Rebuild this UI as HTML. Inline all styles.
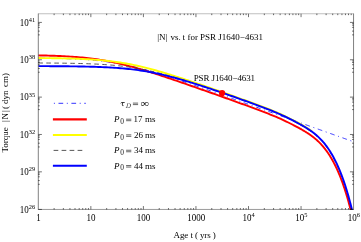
<!DOCTYPE html>
<html><head><meta charset="utf-8"><title>|N| vs. t for PSR J1640-4631</title>
<style>
html,body{margin:0;padding:0;background:#fff;}
svg{display:block;font-family:"Liberation Serif",serif;}
</style></head>
<body>
<svg width="361" height="242" viewBox="0 0 361 242">
<rect width="361" height="242" fill="#fff"/>
<defs><clipPath id="c"><rect x="38.3" y="13.75" width="315.25" height="196.0"/></clipPath></defs>
<g fill="none" stroke-linejoin="round" clip-path="url(#c)">
<path d="M38.30,58.14 L40.30,58.16 L42.30,58.19 L44.30,58.21 L46.30,58.24 L48.30,58.27 L50.30,58.30 L52.30,58.34 L54.30,58.38 L56.30,58.42 L58.30,58.47 L60.30,58.52 L62.30,58.57 L64.30,58.63 L66.30,58.69 L68.30,58.76 L70.30,58.84 L72.30,58.92 L74.30,59.01 L76.30,59.10 L78.30,59.20 L80.30,59.31 L82.30,59.43 L84.30,59.56 L86.30,59.69 L88.30,59.84 L90.30,59.99 L92.30,60.16 L94.30,60.34 L96.30,60.53 L98.30,60.73 L100.30,60.95 L102.30,61.18 L104.30,61.42 L106.30,61.68 L108.30,61.95 L110.30,62.24 L112.30,62.54 L114.30,62.86 L116.30,63.19 L118.30,63.54 L120.30,63.91 L122.30,64.29 L124.30,64.68 L126.30,65.09 L128.30,65.52 L130.30,65.96 L132.30,66.42 L134.30,66.89 L136.30,67.37 L138.30,67.87 L140.30,68.38 L142.30,68.90 L144.30,69.43 L146.30,69.98 L148.30,70.54 L150.30,71.10 L152.30,71.68 L154.30,72.27 L156.30,72.86 L158.30,73.47 L160.30,74.08 L162.30,74.70 L164.30,75.32 L166.30,75.95 L168.30,76.59 L170.30,77.24 L172.30,77.89 L174.30,78.54 L176.30,79.20 L178.30,79.86 L180.30,80.53 L182.30,81.20 L184.30,81.87 L186.30,82.55 L188.30,83.23 L190.30,83.91 L192.30,84.60 L194.30,85.28 L196.30,85.97 L198.30,86.66 L200.30,87.36 L202.30,88.05 L204.30,88.75 L206.30,89.45 L208.30,90.14 L210.30,90.84 L212.30,91.55 L214.30,92.25 L216.30,92.95 L218.30,93.65 L220.30,94.36 L222.30,95.06 L224.30,95.77 L226.30,96.48 L228.30,97.18 L230.30,97.89 L232.30,98.60 L234.30,99.31 L236.30,100.01 L238.30,100.72 L240.30,101.43 L242.30,102.14 L244.30,102.85 L246.30,103.56 L248.30,104.27 L250.30,104.98 L252.30,105.69 L254.30,106.41 L256.30,107.12 L258.30,107.83 L260.30,108.54 L262.30,109.25 L264.30,109.96 L266.30,110.67 L268.30,111.39 L270.30,112.10 L272.30,112.81 L274.30,113.52 L276.30,114.23 L278.30,114.95 L280.30,115.66 L282.30,116.37 L284.30,117.08 L286.30,117.79 L288.30,118.51 L290.30,119.22 L292.30,119.93 L294.30,120.64 L296.30,121.36 L298.30,122.07 L300.00,122.68 L300.50,122.85 L301.00,123.03 L301.50,123.21 L302.00,123.39 L302.50,123.57 L303.00,123.74 L303.50,123.92 L304.00,124.10 L304.50,124.28 L305.00,124.46 L305.50,124.64 L306.00,124.81 L306.50,124.99 L307.00,125.17 L307.50,125.35 L308.00,125.53 L308.50,125.70 L309.00,125.88 L309.50,126.06 L310.00,126.24 L310.50,126.42 L311.00,126.60 L311.50,126.77 L312.00,126.95 L312.50,127.13 L313.00,127.31 L313.50,127.49 L314.00,127.66 L314.50,127.84 L315.00,128.02 L315.50,128.20 L316.00,128.38 L316.50,128.55 L317.00,128.73 L317.50,128.91 L318.00,129.09 L318.50,129.27 L319.00,129.45 L319.50,129.62 L320.00,129.80 L320.50,129.98 L321.00,130.16 L321.50,130.34 L322.00,130.52 L322.50,130.69 L323.00,130.87 L323.50,131.05 L324.00,131.23 L324.50,131.41 L325.00,131.58 L325.50,131.76 L326.00,131.94 L326.50,132.12 L327.00,132.30 L327.50,132.48 L328.00,132.65 L328.50,132.83 L329.00,133.01 L329.50,133.19 L330.00,133.37 L330.50,133.54 L331.00,133.72 L331.50,133.90 L332.00,134.08 L332.50,134.26 L333.00,134.44 L333.50,134.61 L334.00,134.79 L334.50,134.97 L335.00,135.15 L335.50,135.33 L336.00,135.50 L336.50,135.68 L337.00,135.86 L337.50,136.04 L338.00,136.22 L338.50,136.40 L339.00,136.57 L339.50,136.75 L340.00,136.93 L340.50,137.11 L341.00,137.29 L341.50,137.46 L342.00,137.64 L342.50,137.82 L343.00,138.00 L343.50,138.18 L344.00,138.36 L344.50,138.53 L345.00,138.71 L345.50,138.89 L346.00,139.07 L346.50,139.25 L347.00,139.42 L347.50,139.60 L348.00,139.78 L348.50,139.96 L349.00,140.14 L349.50,140.32 L350.00,140.49 L350.50,140.67 L351.00,140.85 L351.50,141.03 L352.00,141.21 L352.50,141.39 L353.00,141.56 L353.50,141.74" stroke="#1c1cff" stroke-width="0.9" stroke-dasharray="1,3.7,4.7,3.7" stroke-dashoffset="2.5"/>
<path d="M38.30,55.40 L40.30,55.44 L42.30,55.48 L44.30,55.52 L46.30,55.57 L48.30,55.63 L50.30,55.68 L52.30,55.75 L54.30,55.81 L56.30,55.89 L58.30,55.97 L60.30,56.05 L62.30,56.14 L64.30,56.24 L66.30,56.35 L68.30,56.46 L70.30,56.59 L72.30,56.72 L74.30,56.87 L76.30,57.02 L78.30,57.18 L80.30,57.36 L82.30,57.55 L84.30,57.74 L86.30,57.96 L88.30,58.18 L90.30,58.42 L92.30,58.68 L94.30,58.94 L96.30,59.23 L98.30,59.52 L100.30,59.84 L102.30,60.16 L104.30,60.51 L106.30,60.87 L108.30,61.24 L110.30,61.63 L112.30,62.04 L114.30,62.46 L116.30,62.89 L118.30,63.34 L120.30,63.81 L122.30,64.29 L124.30,64.78 L126.30,65.28 L128.30,65.80 L130.30,66.33 L132.30,66.87 L134.30,67.42 L136.30,67.99 L138.30,68.56 L140.30,69.14 L142.30,69.73 L144.30,70.33 L146.30,70.94 L148.30,71.55 L150.30,72.17 L152.30,72.80 L154.30,73.44 L156.30,74.08 L158.30,74.72 L160.30,75.37 L162.30,76.03 L164.30,76.69 L166.30,77.35 L168.30,78.02 L170.30,78.69 L172.30,79.36 L174.30,80.04 L176.30,80.72 L178.30,81.40 L180.30,82.08 L182.30,82.77 L184.30,83.46 L186.30,84.15 L188.30,84.84 L190.30,85.54 L192.30,86.23 L194.30,86.93 L196.30,87.63 L198.30,88.33 L200.30,89.03 L202.30,89.73 L204.30,90.43 L206.30,91.14 L208.30,91.84 L210.30,92.55 L212.30,93.26 L214.30,93.97 L216.30,94.67 L218.30,95.38 L220.30,96.10 L222.30,96.81 L224.30,97.52 L226.30,98.24 L228.30,98.95 L230.30,99.67 L232.30,100.39 L234.30,101.11 L236.30,101.83 L238.30,102.55 L240.30,103.27 L242.30,104.00 L244.30,104.72 L246.30,105.45 L248.30,106.18 L250.30,106.92 L252.30,107.66 L254.30,108.40 L256.30,109.14 L258.30,109.89 L260.30,110.64 L262.30,111.40 L264.30,112.17 L266.30,112.94 L268.30,113.72 L270.30,114.52 L272.30,115.33 L274.30,116.15 L276.30,116.99 L278.30,117.86 L280.30,118.74 L282.30,119.64 L284.30,120.57 L286.30,121.52 L288.30,122.50 L290.30,123.49 L292.30,124.50 L294.30,125.54 L296.30,126.59 L298.30,127.67 L300.00,128.61 L300.50,128.88 L301.00,129.17 L301.50,129.45 L302.00,129.73 L302.50,130.02 L303.00,130.31 L303.50,130.60 L304.00,130.90 L304.50,131.20 L305.00,131.50 L305.50,131.81 L306.00,132.11 L306.50,132.43 L307.00,132.74 L307.50,133.06 L308.00,133.39 L308.50,133.72 L309.00,134.05 L309.50,134.39 L310.00,134.74 L310.50,135.09 L311.00,135.45 L311.50,135.81 L312.00,136.18 L312.50,136.55 L313.00,136.93 L313.50,137.32 L314.00,137.72 L314.50,138.13 L315.00,138.54 L315.50,138.96 L316.00,139.39 L316.50,139.83 L317.00,140.27 L317.50,140.73 L318.00,141.20 L318.50,141.67 L319.00,142.16 L319.50,142.66 L320.00,143.17 L320.50,143.69 L321.00,144.22 L321.50,144.76 L322.00,145.31 L322.50,145.88 L323.00,146.46 L323.50,147.05 L324.00,147.66 L324.50,148.28 L325.00,148.91 L325.50,149.56 L326.00,150.22 L326.50,150.89 L327.00,151.59 L327.50,152.29 L328.00,153.02 L328.50,153.76 L329.00,154.51 L329.50,155.29 L330.00,156.08 L330.50,156.89 L331.00,157.71 L331.50,158.56 L332.00,159.42 L332.50,160.31 L333.00,161.21 L333.50,162.13 L334.00,163.08 L334.50,164.04 L335.00,165.03 L335.50,166.04 L336.00,167.07 L336.50,168.12 L337.00,169.20 L337.50,170.30 L338.00,171.43 L338.50,172.58 L339.00,173.76 L339.50,174.96 L340.00,176.19 L340.50,177.45 L341.00,178.73 L341.50,180.05 L342.00,181.39 L342.50,182.76 L343.00,184.17 L343.50,185.60 L344.00,187.07 L344.50,188.57 L345.00,190.10 L345.50,191.66 L346.00,193.26 L346.50,194.90 L347.00,196.57 L347.50,198.28 L348.00,200.03 L348.50,201.82 L349.00,203.64 L349.50,205.51 L350.00,207.41 L350.50,209.36 L351.00,211.36" stroke="#f00" stroke-width="1.9"/>
<path d="M38.30,58.04 L40.30,58.06 L42.30,58.08 L44.30,58.09 L46.30,58.11 L48.30,58.14 L50.30,58.16 L52.30,58.19 L54.30,58.21 L56.30,58.25 L58.30,58.28 L60.30,58.32 L62.30,58.35 L64.30,58.40 L66.30,58.44 L68.30,58.49 L70.30,58.55 L72.30,58.61 L74.30,58.67 L76.30,58.74 L78.30,58.82 L80.30,58.90 L82.30,58.99 L84.30,59.08 L86.30,59.19 L88.30,59.30 L90.30,59.42 L92.30,59.54 L94.30,59.68 L96.30,59.83 L98.30,59.99 L100.30,60.15 L102.30,60.33 L104.30,60.53 L106.30,60.73 L108.30,60.95 L110.30,61.18 L112.30,61.42 L114.30,61.68 L116.30,61.96 L118.30,62.25 L120.30,62.55 L122.30,62.87 L124.30,63.20 L126.30,63.55 L128.30,63.92 L130.30,64.30 L132.30,64.69 L134.30,65.10 L136.30,65.53 L138.30,65.97 L140.30,66.42 L142.30,66.89 L144.30,67.38 L146.30,67.87 L148.30,68.38 L150.30,68.90 L152.30,69.43 L154.30,69.98 L156.30,70.53 L158.30,71.10 L160.30,71.67 L162.30,72.25 L164.30,72.85 L166.30,73.45 L168.30,74.06 L170.30,74.67 L172.30,75.29 L174.30,75.92 L176.30,76.56 L178.30,77.20 L180.30,77.84 L182.30,78.49 L184.30,79.15 L186.30,79.81 L188.30,80.47 L190.30,81.14 L192.30,81.81 L194.30,82.48 L196.30,83.16 L198.30,83.83 L200.30,84.52 L202.30,85.20 L204.30,85.89 L206.30,86.58 L208.30,87.27 L210.30,87.96 L212.30,88.65 L214.30,89.35 L216.30,90.05 L218.30,90.75 L220.30,91.45 L222.30,92.15 L224.30,92.85 L226.30,93.56 L228.30,94.27 L230.30,94.98 L232.30,95.69 L234.30,96.40 L236.30,97.11 L238.30,97.83 L240.30,98.55 L242.30,99.27 L244.30,99.99 L246.30,100.71 L248.30,101.44 L250.30,102.17 L252.30,102.90 L254.30,103.63 L256.30,104.37 L258.30,105.12 L260.30,105.87 L262.30,106.62 L264.30,107.39 L266.30,108.16 L268.30,108.94 L270.30,109.73 L272.30,110.54 L274.30,111.37 L276.30,112.21 L278.30,113.08 L280.30,113.96 L282.30,114.87 L284.30,115.81 L286.30,116.77 L288.30,117.75 L290.30,118.75 L292.30,119.77 L294.30,120.81 L296.30,121.87 L298.30,122.95 L300.00,123.89 L300.50,124.17 L301.00,124.45 L301.50,124.73 L302.00,125.01 L302.50,125.30 L303.00,125.59 L303.50,125.88 L304.00,126.18 L304.50,126.47 L305.00,126.78 L305.50,127.08 L306.00,127.39 L306.50,127.70 L307.00,128.01 L307.50,128.33 L308.00,128.66 L308.50,128.98 L309.00,129.32 L309.50,129.65 L310.00,130.00 L310.50,130.35 L311.00,130.70 L311.50,131.06 L312.00,131.43" stroke="#ff0" stroke-width="1.9"/>
<path d="M38.30,62.98 L40.30,62.99 L42.30,63.00 L44.30,63.01 L46.30,63.03 L48.30,63.04 L50.30,63.05 L52.30,63.07 L54.30,63.09 L56.30,63.10 L58.30,63.12 L60.30,63.15 L62.30,63.17 L64.30,63.20 L66.30,63.22 L68.30,63.26 L70.30,63.29 L72.30,63.33 L74.30,63.36 L76.30,63.41 L78.30,63.45 L80.30,63.50 L82.30,63.56 L84.30,63.62 L86.30,63.68 L88.30,63.75 L90.30,63.83 L92.30,63.91 L94.30,64.00 L96.30,64.09 L98.30,64.20 L100.30,64.31 L102.30,64.43 L104.30,64.55 L106.30,64.69 L108.30,64.84 L110.30,65.00 L112.30,65.16 L114.30,65.34 L116.30,65.54 L118.30,65.74 L120.30,65.96 L122.30,66.19 L124.30,66.43 L126.30,66.69 L128.30,66.97 L130.30,67.26 L132.30,67.56 L134.30,67.88 L136.30,68.21 L138.30,68.56 L140.30,68.93 L142.30,69.31 L144.30,69.70 L146.30,70.11 L148.30,70.54 L150.30,70.98 L152.30,71.44 L154.30,71.90 L156.30,72.39 L158.30,72.88 L160.30,73.39 L162.30,73.91 L164.30,74.45 L166.30,74.99 L168.30,75.54 L170.30,76.11 L172.30,76.68 L174.30,77.27 L176.30,77.86 L178.30,78.46 L180.30,79.07 L182.30,79.69 L184.30,80.31 L186.30,80.94 L188.30,81.57 L190.30,82.21 L192.30,82.86 L194.30,83.51 L196.30,84.17 L198.30,84.83 L200.30,85.49 L202.30,86.16 L204.30,86.83 L206.30,87.51 L208.30,88.18 L210.30,88.86 L212.30,89.55 L214.30,90.23 L216.30,90.92 L218.30,91.61 L220.30,92.31 L222.30,93.00 L224.30,93.70 L226.30,94.40 L228.30,95.10 L230.30,95.81 L232.30,96.51 L234.30,97.22 L236.30,97.93 L238.30,98.64 L240.30,99.36 L242.30,100.07 L244.30,100.79 L246.30,101.51 L248.30,102.24 L250.30,102.96 L252.30,103.69 L254.30,104.43 L256.30,105.17 L258.30,105.91 L260.30,106.66 L262.30,107.41 L264.30,108.17 L266.30,108.94 L268.30,109.72 L270.30,110.52 L272.30,111.32 L274.30,112.15 L276.30,112.99 L278.30,113.86 L280.30,114.74 L282.30,115.65 L284.30,116.59 L286.30,117.55 L288.30,118.53 L290.30,119.53 L292.30,120.55 L294.30,121.59 L296.30,122.65 L298.30,123.73 L300.00,124.66 L300.50,124.94 L301.00,125.22 L301.50,125.51 L302.00,125.79 L302.50,126.08 L303.00,126.37 L303.50,126.66 L304.00,126.95 L304.50,127.25 L305.00,127.55 L305.50,127.86 L306.00,128.16 L306.50,128.47 L307.00,128.79 L307.50,129.11 L308.00,129.43 L308.50,129.76 L309.00,130.09 L309.50,130.43 L310.00,130.77 L310.50,131.12 L311.00,131.48 L311.50,131.84 L312.00,132.20 L312.50,132.58 L313.00,132.96 L313.50,133.35 L314.00,133.74 L314.50,134.14 L315.00,134.56 L315.50,134.97 L316.00,135.40 L316.50,135.84 L317.00,136.29 L317.50,136.74 L318.00,137.21 L318.50,137.68 L319.00,138.17 L319.50,138.66 L320.00,139.17 L320.50,139.69 L321.00,140.22 L321.50,140.76 L322.00,141.32 L322.50,141.88 L323.00,142.46 L323.50,143.05 L324.00,143.66 L324.50,144.28 L325.00,144.91 L325.50,145.56 L326.00,146.22 L326.50,146.90 L327.00,147.59 L327.50,148.30 L328.00,149.02 L328.50,149.76 L329.00,150.52 L329.50,151.30 L330.00,152.09 L330.50,152.90 L331.00,153.73 L331.50,154.57 L332.00,155.44 L332.50,156.32 L333.00,157.23 L333.50,158.15 L334.00,159.10 L334.50,160.07 L335.00,161.06 L335.50,162.07 L336.00,163.10 L336.50,164.16 L337.00,165.24 L337.50,166.34 L338.00,167.47 L338.50,168.62 L339.00,169.80 L339.50,171.01 L340.00,172.24 L340.50,173.50 L341.00,174.79 L341.50,176.11 L342.00,177.45 L342.50,178.83 L343.00,180.24 L343.50,181.67 L344.00,183.14 L344.50,184.65 L345.00,186.18 L345.50,187.75 L346.00,189.35 L346.50,190.99 L347.00,192.67 L347.50,194.38 L348.00,196.14 L348.50,197.93 L349.00,199.76 L349.50,201.63 L350.00,203.54 L350.50,205.49 L351.00,207.49 L351.50,209.53 L352.00,211.62" stroke="#444" stroke-width="0.9" stroke-dasharray="4.7,3.3"/>
<path d="M38.30,66.14 L40.30,66.14 L42.30,66.15 L44.30,66.16 L46.30,66.16 L48.30,66.17 L50.30,66.18 L52.30,66.19 L54.30,66.20 L56.30,66.22 L58.30,66.23 L60.30,66.24 L62.30,66.26 L64.30,66.28 L66.30,66.30 L68.30,66.32 L70.30,66.34 L72.30,66.36 L74.30,66.39 L76.30,66.42 L78.30,66.45 L80.30,66.48 L82.30,66.52 L84.30,66.56 L86.30,66.60 L88.30,66.65 L90.30,66.70 L92.30,66.75 L94.30,66.81 L96.30,66.88 L98.30,66.95 L100.30,67.02 L102.30,67.11 L104.30,67.20 L106.30,67.29 L108.30,67.39 L110.30,67.50 L112.30,67.62 L114.30,67.75 L116.30,67.89 L118.30,68.04 L120.30,68.20 L122.30,68.37 L124.30,68.55 L126.30,68.74 L128.30,68.95 L130.30,69.16 L132.30,69.40 L134.30,69.64 L136.30,69.90 L138.30,70.18 L140.30,70.47 L142.30,70.77 L144.30,71.09 L146.30,71.42 L148.30,71.78 L150.30,72.14 L152.30,72.52 L154.30,72.92 L156.30,73.33 L158.30,73.76 L160.30,74.20 L162.30,74.66 L164.30,75.12 L166.30,75.61 L168.30,76.10 L170.30,76.61 L172.30,77.14 L174.30,77.67 L176.30,78.21 L178.30,78.77 L180.30,79.33 L182.30,79.91 L184.30,80.49 L186.30,81.09 L188.30,81.69 L190.30,82.30 L192.30,82.91 L194.30,83.54 L196.30,84.16 L198.30,84.80 L200.30,85.44 L202.30,86.09 L204.30,86.74 L206.30,87.40 L208.30,88.06 L210.30,88.72 L212.30,89.39 L214.30,90.06 L216.30,90.74 L218.30,91.42 L220.30,92.10 L222.30,92.78 L224.30,93.47 L226.30,94.16 L228.30,94.86 L230.30,95.55 L232.30,96.25 L234.30,96.95 L236.30,97.66 L238.30,98.36 L240.30,99.07 L242.30,99.78 L244.30,100.50 L246.30,101.21 L248.30,101.93 L250.30,102.66 L252.30,103.38 L254.30,104.11 L256.30,104.85 L258.30,105.58 L260.30,106.33 L262.30,107.08 L264.30,107.84 L266.30,108.61 L268.30,109.38 L270.30,110.17 L272.30,110.98 L274.30,111.80 L276.30,112.64 L278.30,113.50 L280.30,114.38 L282.30,115.29 L284.30,116.22 L286.30,117.17 L288.30,118.14 L290.30,119.14 L292.30,120.16 L294.30,121.19 L296.30,122.24 L298.30,123.31 L300.00,124.24 L300.50,124.52 L301.00,124.79 L301.50,125.07 L302.00,125.36 L302.50,125.64 L303.00,125.93 L303.50,126.22 L304.00,126.51 L304.50,126.80 L305.00,127.10 L305.50,127.40 L306.00,127.70 L306.50,128.01 L307.00,128.32 L307.50,128.64 L308.00,128.96 L308.50,129.28 L309.00,129.61 L309.50,129.94 L310.00,130.28 L310.50,130.63 L311.00,130.98 L311.50,131.33 L312.00,131.70 L312.50,132.06 L313.00,132.44 L313.50,132.82 L314.00,133.21 L314.50,133.61 L315.00,134.01 L315.50,134.43 L316.00,134.85 L316.50,135.28 L317.00,135.72 L317.50,136.17 L318.00,136.63 L318.50,137.09 L319.00,137.57 L319.50,138.06 L320.00,138.56 L320.50,139.07 L321.00,139.59 L321.50,140.13 L322.00,140.67 L322.50,141.23 L323.00,141.80 L323.50,142.38 L324.00,142.98 L324.50,143.59 L325.00,144.21 L325.50,144.85 L326.00,145.50 L326.50,146.17 L327.00,146.85 L327.50,147.55 L328.00,148.26 L328.50,148.99 L329.00,149.73 L329.50,150.50 L330.00,151.28 L330.50,152.07 L331.00,152.89 L331.50,153.72 L332.00,154.57 L332.50,155.44 L333.00,156.33 L333.50,157.25 L334.00,158.18 L334.50,159.13 L335.00,160.10 L335.50,161.10 L336.00,162.11 L336.50,163.15 L337.00,164.22 L337.50,165.30 L338.00,166.41 L338.50,167.55 L339.00,168.71 L339.50,169.90 L340.00,171.11 L340.50,172.35 L341.00,173.62 L341.50,174.91 L342.00,176.24 L342.50,177.59 L343.00,178.97 L343.50,180.39 L344.00,181.84 L344.50,183.31 L345.00,184.82 L345.50,186.37 L346.00,187.95 L346.50,189.56 L347.00,191.21 L347.50,192.90 L348.00,194.62 L348.50,196.38 L349.00,198.18 L349.50,200.02 L350.00,201.90 L350.50,203.83 L351.00,205.79 L351.50,207.80 L352.00,209.85 L352.50,211.95" stroke="#00f" stroke-width="1.9"/>
</g>
<circle cx="222.1" cy="93" r="3.1" fill="#f00"/>
<g fill="none" stroke="#000">
<path d="M38.3,13.55 V209.64999999999998 M353.55,13.55 V209.64999999999998" stroke-width="0.5"/>
<path d="M38.3,13.75 H353.55" stroke-width="0.26"/>
<path d="M38.3,209.45 H353.55" stroke-width="0.4"/>
<path d="M90.85,209.45 v-3.4 M90.85,13.75 v3.4 M143.40,209.45 v-3.4 M143.40,13.75 v3.4 M195.95,209.45 v-3.4 M195.95,13.75 v3.4 M248.50,209.45 v-3.4 M248.50,13.75 v3.4 M301.05,209.45 v-3.4 M301.05,13.75 v3.4 M38.30,209.45 h3.6 M353.55,209.45 h-3.6 M38.30,171.84 h3.6 M353.55,171.84 h-3.6 M38.30,134.48 h3.6 M353.55,134.48 h-3.6 M38.30,97.12 h3.6 M353.55,97.12 h-3.6 M38.30,59.76 h3.6 M353.55,59.76 h-3.6 M38.30,22.41 h3.6 M353.55,22.41 h-3.6" stroke-width="0.55"/>
<path d="M54.12,209.55 v-1.5 M54.12,13.65 v1.5 M63.37,209.55 v-1.5 M63.37,13.65 v1.5 M69.94,209.55 v-1.5 M69.94,13.65 v1.5 M75.03,209.55 v-1.5 M75.03,13.65 v1.5 M79.19,209.55 v-1.5 M79.19,13.65 v1.5 M82.71,209.55 v-1.5 M82.71,13.65 v1.5 M85.76,209.55 v-1.5 M85.76,13.65 v1.5 M88.45,209.55 v-1.5 M88.45,13.65 v1.5 M106.67,209.55 v-1.5 M106.67,13.65 v1.5 M115.92,209.55 v-1.5 M115.92,13.65 v1.5 M122.49,209.55 v-1.5 M122.49,13.65 v1.5 M127.58,209.55 v-1.5 M127.58,13.65 v1.5 M131.74,209.55 v-1.5 M131.74,13.65 v1.5 M135.26,209.55 v-1.5 M135.26,13.65 v1.5 M138.31,209.55 v-1.5 M138.31,13.65 v1.5 M141.00,209.55 v-1.5 M141.00,13.65 v1.5 M159.22,209.55 v-1.5 M159.22,13.65 v1.5 M168.47,209.55 v-1.5 M168.47,13.65 v1.5 M175.04,209.55 v-1.5 M175.04,13.65 v1.5 M180.13,209.55 v-1.5 M180.13,13.65 v1.5 M184.29,209.55 v-1.5 M184.29,13.65 v1.5 M187.81,209.55 v-1.5 M187.81,13.65 v1.5 M190.86,209.55 v-1.5 M190.86,13.65 v1.5 M193.55,209.55 v-1.5 M193.55,13.65 v1.5 M211.77,209.55 v-1.5 M211.77,13.65 v1.5 M221.02,209.55 v-1.5 M221.02,13.65 v1.5 M227.59,209.55 v-1.5 M227.59,13.65 v1.5 M232.68,209.55 v-1.5 M232.68,13.65 v1.5 M236.84,209.55 v-1.5 M236.84,13.65 v1.5 M240.36,209.55 v-1.5 M240.36,13.65 v1.5 M243.41,209.55 v-1.5 M243.41,13.65 v1.5 M246.10,209.55 v-1.5 M246.10,13.65 v1.5 M264.32,209.55 v-1.5 M264.32,13.65 v1.5 M273.57,209.55 v-1.5 M273.57,13.65 v1.5 M280.14,209.55 v-1.5 M280.14,13.65 v1.5 M285.23,209.55 v-1.5 M285.23,13.65 v1.5 M289.39,209.55 v-1.5 M289.39,13.65 v1.5 M292.91,209.55 v-1.5 M292.91,13.65 v1.5 M295.96,209.55 v-1.5 M295.96,13.65 v1.5 M298.65,209.55 v-1.5 M298.65,13.65 v1.5 M316.87,209.55 v-1.5 M316.87,13.65 v1.5 M326.12,209.55 v-1.5 M326.12,13.65 v1.5 M332.69,209.55 v-1.5 M332.69,13.65 v1.5 M337.78,209.55 v-1.5 M337.78,13.65 v1.5 M341.94,209.55 v-1.5 M341.94,13.65 v1.5 M345.46,209.55 v-1.5 M345.46,13.65 v1.5 M348.51,209.55 v-1.5 M348.51,13.65 v1.5 M351.20,209.55 v-1.5 M351.20,13.65 v1.5 M38.20,184.29 h1.5 M353.65,184.29 h-1.5 M38.20,180.55 h1.5 M353.65,180.55 h-1.5 M38.20,176.80 h1.5 M353.65,176.80 h-1.5 M38.20,174.60 h1.5 M353.65,174.60 h-1.5 M38.20,173.05 h1.5 M353.65,173.05 h-1.5 M38.20,146.94 h1.5 M353.65,146.94 h-1.5 M38.20,143.19 h1.5 M353.65,143.19 h-1.5 M38.20,139.44 h1.5 M353.65,139.44 h-1.5 M38.20,137.24 h1.5 M353.65,137.24 h-1.5 M38.20,135.69 h1.5 M353.65,135.69 h-1.5 M38.20,109.58 h1.5 M353.65,109.58 h-1.5 M38.20,105.83 h1.5 M353.65,105.83 h-1.5 M38.20,102.08 h1.5 M353.65,102.08 h-1.5 M38.20,99.89 h1.5 M353.65,99.89 h-1.5 M38.20,98.33 h1.5 M353.65,98.33 h-1.5 M38.20,72.22 h1.5 M353.65,72.22 h-1.5 M38.20,68.47 h1.5 M353.65,68.47 h-1.5 M38.20,64.72 h1.5 M353.65,64.72 h-1.5 M38.20,62.53 h1.5 M353.65,62.53 h-1.5 M38.20,60.97 h1.5 M353.65,60.97 h-1.5 M38.20,34.86 h1.5 M353.65,34.86 h-1.5 M38.20,31.11 h1.5 M353.65,31.11 h-1.5 M38.20,27.36 h1.5 M353.65,27.36 h-1.5 M38.20,25.17 h1.5 M353.65,25.17 h-1.5 M38.20,23.61 h1.5 M353.65,23.61 h-1.5" stroke-width="0.6"/>
</g>
<g font-size="9" fill="#000" style="filter:grayscale(1)">
<text transform="translate(38.50,220.90) scale(1.000,1.060)" text-anchor="middle">1</text>
<text transform="translate(91.05,220.90) scale(1.000,1.060)" text-anchor="middle">10</text>
<text transform="translate(143.60,220.90) scale(1.000,1.060)" text-anchor="middle">100</text>
<text transform="translate(196.15,220.90) scale(1.000,1.060)" text-anchor="middle">1000</text>
<text transform="translate(248.70,220.90) scale(1.000,1.060)" text-anchor="middle">10<tspan dy="-3.6" font-size="6.4">4</tspan></text>
<text transform="translate(301.25,220.90) scale(1.000,1.060)" text-anchor="middle">10<tspan dy="-3.6" font-size="6.4">5</tspan></text>
<text transform="translate(353.80,220.90) scale(1.000,1.060)" text-anchor="middle">10<tspan dy="-3.6" font-size="6.4">6</tspan></text>
<text transform="translate(35.20,212.50) scale(1.000,1.060)" text-anchor="end">10<tspan dy="-3.6" font-size="6.4">26</tspan></text>
<text transform="translate(35.20,175.14) scale(1.000,1.060)" text-anchor="end">10<tspan dy="-3.6" font-size="6.4">29</tspan></text>
<text transform="translate(35.20,137.78) scale(1.000,1.060)" text-anchor="end">10<tspan dy="-3.6" font-size="6.4">32</tspan></text>
<text transform="translate(35.20,100.42) scale(1.000,1.060)" text-anchor="end">10<tspan dy="-3.6" font-size="6.4">35</tspan></text>
<text transform="translate(35.20,63.06) scale(1.000,1.060)" text-anchor="end">10<tspan dy="-3.6" font-size="6.4">38</tspan></text>
<text transform="translate(35.20,25.71) scale(1.000,1.060)" text-anchor="end">10<tspan dy="-3.6" font-size="6.4">41</tspan></text>
<text transform="translate(0.00,40.40) scale(1.000,1.000)"><tspan x="157.3">|N|</tspan><tspan x="170.5">vs.</tspan><tspan x="182.5">t</tspan><tspan x="187.5">for</tspan><tspan x="200.0">PSR</tspan><tspan x="218.3">J1640−4631</tspan></text>
<text transform="translate(193.70,80.80) scale(1.000,1.000)" textLength="61.4" lengthAdjust="spacing">PSR J1640−4631</text>
<text transform="translate(173.60,238.20) scale(1.000,1.000)" textLength="42.2" lengthAdjust="spacing">Age t ( yrs )</text>
<text transform="translate(8.10,152.60) rotate(-90) scale(1.000,1.000)"><tspan x="0">Torque</tspan><tspan x="30.7 33.2 40.5">|N|</tspan><tspan x="43.6">(</tspan><tspan x="48.6">dyn</tspan><tspan x="65.6">cm)</tspan></text>
<path d="M120.7,103.3 Q121.1,102.5 122.0,102.5 H124.7 M122.7,102.6 L122.3,105.0 Q122.2,105.9 123.5,105.6" fill="none" stroke="#000" stroke-width="0.75"/>
<text transform="translate(125.6,107.6) skewX(-15)" font-size="6.9" fill="#333">D</text>
<text transform="translate(140.50,106.30) scale(1.300,1.200)" dy="0.9" fill="#111">∞</text>
<text transform="translate(113.90,122.25) scale(1.000,1.000)" font-style="italic">P</text>
<text transform="translate(120.30,123.85) scale(1.000,1.000)" font-size="7.4" fill="#111">0</text>
<text transform="translate(133.40,122.25) scale(1.000,1.000)">17</text>
<text transform="translate(145.10,122.25) scale(1.000,1.000)">ms</text>
<text transform="translate(113.90,137.90) scale(1.000,1.000)" font-style="italic">P</text>
<text transform="translate(120.30,139.50) scale(1.000,1.000)" font-size="7.4" fill="#111">0</text>
<text transform="translate(133.90,137.90) scale(1.000,1.000)">26</text>
<text transform="translate(145.10,137.90) scale(1.000,1.000)">ms</text>
<text transform="translate(113.90,153.30) scale(1.000,1.000)" font-style="italic">P</text>
<text transform="translate(120.30,154.90) scale(1.000,1.000)" font-size="7.4" fill="#111">0</text>
<text transform="translate(133.90,153.30) scale(1.000,1.000)">34</text>
<text transform="translate(145.10,153.30) scale(1.000,1.000)">ms</text>
<text transform="translate(113.90,168.60) scale(1.000,1.000)" font-style="italic">P</text>
<text transform="translate(120.30,170.20) scale(1.000,1.000)" font-size="7.4" fill="#111">0</text>
<text transform="translate(133.90,168.60) scale(1.000,1.000)">44</text>
<text transform="translate(145.10,168.60) scale(1.000,1.000)">ms</text>
</g>
<path d="M132.9,103.10 h5.2 M132.9,104.60 h5.2 M126.10,119.20 h5.2 M126.10,120.70 h5.2 M126.10,134.85 h5.2 M126.10,136.35 h5.2 M126.10,150.25 h5.2 M126.10,151.75 h5.2 M126.10,165.55 h5.2 M126.10,167.05 h5.2" fill="none" stroke="#000" stroke-width="0.6"/>
<g fill="none">
<path d="M53.9,103.3 H85.8" stroke="#1c1cff" stroke-width="0.9" stroke-dasharray="1,3.6,4.7,3.6"/>
<path d="M52.9,119.35 H86.8" stroke="#f00" stroke-width="2.05"/>
<path d="M52.9,135.0 H86.8" stroke="#ff0" stroke-width="2.05"/>
<path d="M53.6,150.4 H85" stroke="#444" stroke-width="0.9" stroke-dasharray="4.7,3.3"/>
<path d="M52.9,165.7 H86.8" stroke="#00f" stroke-width="2.05"/>
</g>
</svg>
</body></html>
